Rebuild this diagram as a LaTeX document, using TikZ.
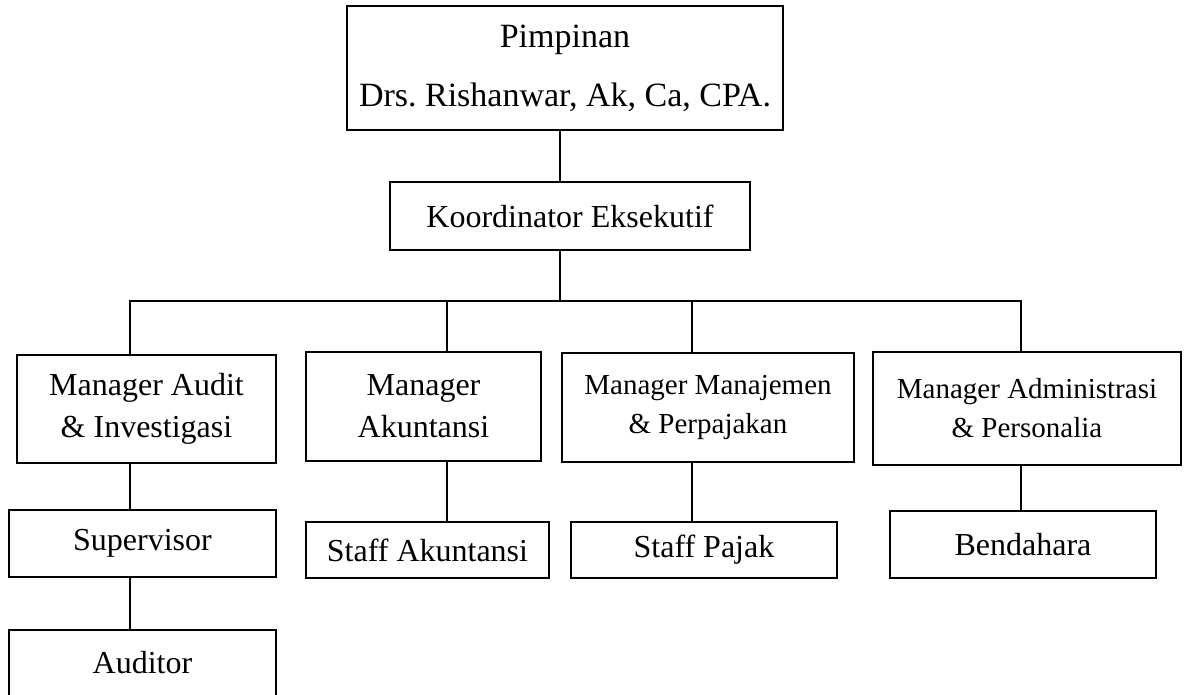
\documentclass[tikz,border=0pt]{standalone}
\usepackage{fontspec}
\setmainfont{Liberation Serif}
\frenchspacing
\begin{document}
\begin{tikzpicture}[x=1pt,y=-1pt,
  orgbox/.style={draw, line width=1.5pt, rectangle, inner sep=2pt, align=center, font=\fontsize{32}{42}\selectfont},
  sz/.style 2 args={minimum width=#1pt, minimum height=#2pt},
  link/.style={line width=1.5pt}]
\path[use as bounding box, clip] (0,0) rectangle (1189,694);
\node[orgbox, sz={436}{124}, font=\fontsize{34}{59}\selectfont] (pim) at (565,68) {Pimpinan\\Drs. Rishanwar, Ak, Ca, CPA.};
\node[orgbox, sz={360}{68}] (koor) at (570,216) {Koordinator Eksekutif};
\coordinate (bus) at (560,301);
\coordinate (busL) at (130,301);
\coordinate (dB) at (447,301);
\coordinate (dC) at (692,301);
\coordinate (busR) at (1021,301);
\node[orgbox, sz={259}{108}] (mA) at (146.5,409) {Manager Audit\\\& Investigasi};
\node[orgbox, sz={235}{109}] (mB) at (423.5,406.5) {Manager\\Akuntansi};
\node[orgbox, sz={292}{109}, font=\fontsize{29}{39}\selectfont] (mC) at (708,407.5) {Manager Manajemen\\\& Perpajakan};
\node[orgbox, sz={308}{113}, font=\fontsize{29}{39}\selectfont] (mD) at (1027,408.5) {Manager Administrasi\\\& Personalia};
\node[orgbox, sz={267}{67}] (sup) at (142.5,543.5) {Supervisor};
\node[orgbox, sz={267}{66}] (aud) at (142.5,663) {Auditor};
\node[orgbox, sz={243}{56}] (sAk) at (427.5,550) {Staff Akuntansi};
\node[orgbox, sz={266}{56}] (sPj) at (704,550) {Staff Pajak};
\node[orgbox, sz={266}{67}] (bend) at (1023,544.5) {Bendahara};
\draw[link] (pim.south -| bus) -- (koor.north -| bus);
\draw[link] (koor.south -| bus) -- (bus);
\draw[link] (mA.north -| busL) -- (busL) -- (busR) -- (mD.north -| busR);
\draw[link] (dB) -- (mB.north -| dB);
\draw[link] (dC) -- (mC.north -| dC);
\draw[link] (mA.south -| busL) -- (sup.north -| busL);
\draw[link] (sup.south -| busL) -- (aud.north -| busL);
\draw[link] (mB.south -| dB) -- (sAk.north -| dB);
\draw[link] (mC.south -| dC) -- (sPj.north -| dC);
\draw[link] (mD.south -| busR) -- (bend.north -| busR);
\end{tikzpicture}
\end{document}
